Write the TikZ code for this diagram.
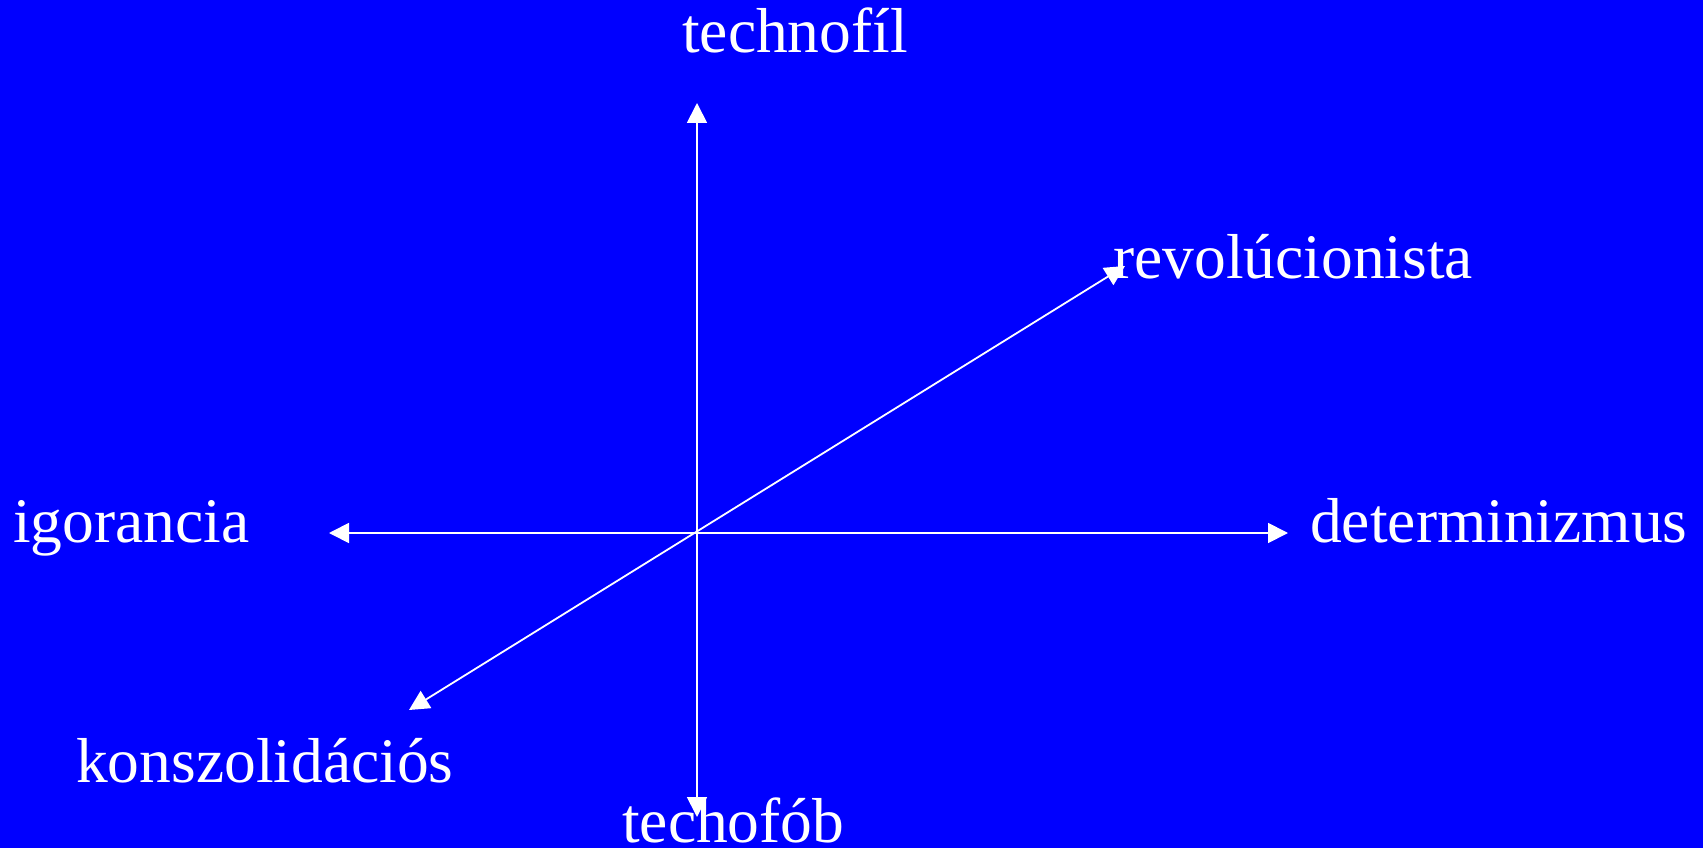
\documentclass[tikz,border=0pt]{standalone}
\usepackage{fontspec}
\setmainfont{Liberation Serif}
\usetikzlibrary{arrows.meta}
\definecolor{bg}{RGB}{0,0,255}
\begin{document}
\begin{tikzpicture}[x=1pt,y=-1pt,
  lbl/.style={text=white,anchor=base west,inner sep=0pt,font=\fontsize{63.5}{76}\selectfont},
  axis/.style={draw=white,line width=1.8pt,{Triangle[length=20pt,width=20pt]}-{Triangle[length=20pt,width=20pt]}}]
\fill[bg] (0,0) rectangle (1703,848);
\useasboundingbox (0,0) rectangle (1703,848);
\coordinate (top) at (697,103);
\coordinate (bot) at (697,817);
\coordinate (lft) at (329,533);
\coordinate (rgt) at (1288,533);
\coordinate (ur) at (1125,266);
\coordinate (ll) at (409,710);
\draw[axis] (bot) -- (top);
\draw[axis] (lft) -- (rgt);
\draw[axis] (ll) -- (ur);
\node[lbl] (technofil) at (682,53) {technofíl};
\node[lbl] (revol) at (1113,278) {revolúcionista};
\node[lbl] (igor) at (13,542) {igorancia};
\node[lbl] (determ) at (1310,542) {determinizmus};
\node[lbl] (konsz) at (76,782) {konszolidációs};
\node[lbl] (techofob) at (622,842) {techofób};
\end{tikzpicture}
\end{document}
